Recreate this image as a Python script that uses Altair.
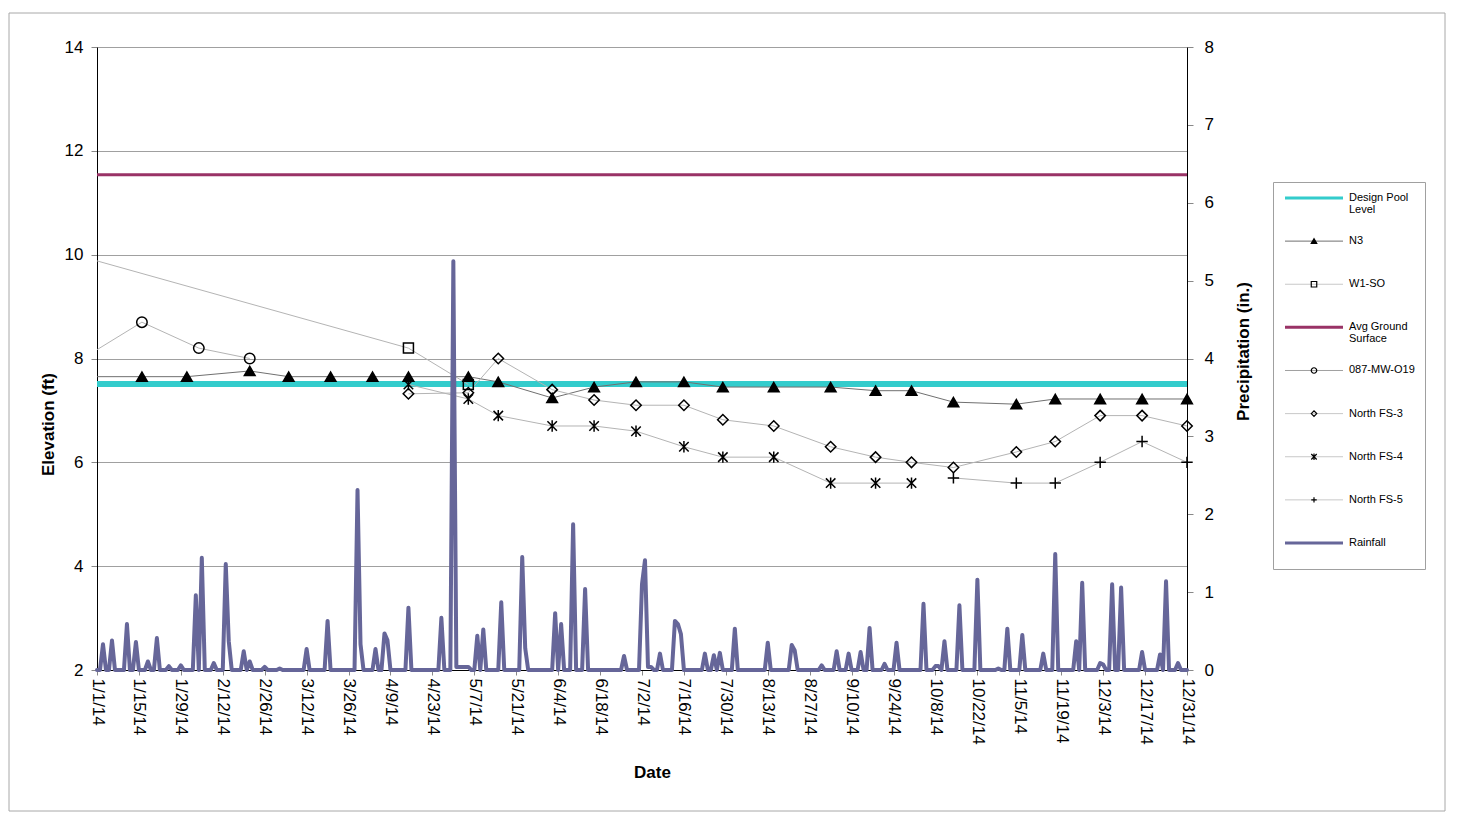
import altair as alt
import pandas as pd

# ---------------- data ----------------
x_tick_labels = ["1/1/14", "1/15/14", "1/29/14", "2/12/14", "2/26/14", "3/12/14", "3/26/14",
                 "4/9/14", "4/23/14", "5/7/14", "5/21/14", "6/4/14", "6/18/14", "7/2/14",
                 "7/16/14", "7/30/14", "8/13/14", "8/27/14", "9/10/14", "9/24/14", "10/8/14",
                 "10/22/14", "11/5/14", "11/19/14", "12/3/14", "12/17/14", "12/31/14"]
elev_ticks = [2, 4, 6, 8, 10, 12, 14]
precip_ticks = [0, 1, 2, 3, 4, 5, 6, 7, 8]

pool_dates = ["1/1/14", "12/31/14"]
pool_values = [7.51, 7.51]

ground_dates = ["1/1/14", "12/31/14"]
ground_values = [11.54, 11.54]

n3_dates = ["1/1/14", "1/16/14", "1/31/14", "2/21/14", "3/6/14", "3/20/14", "4/3/14", "4/15/14",
            "5/5/14", "5/15/14", "6/2/14", "6/16/14", "6/30/14", "7/16/14", "7/29/14", "8/15/14",
            "9/3/14", "9/18/14", "9/30/14", "10/14/14", "11/4/14", "11/17/14", "12/2/14",
            "12/16/14", "12/31/14"]
n3_values = [7.65, 7.65, 7.65, 7.76, 7.65, 7.65, 7.65, 7.65, 7.65, 7.55, 7.24, 7.45, 7.55,
             7.55, 7.45, 7.45, 7.45, 7.38, 7.38, 7.16, 7.12, 7.22, 7.22, 7.22, 7.22]

w1_dates = ["1/1/14", "4/15/14", "5/5/14"]
w1_values = [9.88, 8.2, 7.5]

mw_dates = ["1/1/14", "1/16/14", "2/4/14", "2/21/14"]
mw_values = [8.17, 8.7, 8.2, 8.0]

fs3_dates = ["4/15/14", "5/5/14", "5/15/14", "6/2/14", "6/16/14", "6/30/14", "7/16/14", "7/29/14",
             "8/15/14", "9/3/14", "9/18/14", "9/30/14", "10/14/14", "11/4/14", "11/17/14",
             "12/2/14", "12/16/14", "12/31/14"]
fs3_values = [7.32, 7.34, 8.0, 7.4, 7.2, 7.1, 7.1, 6.82, 6.7, 6.3, 6.1, 6.0, 5.9, 6.2, 6.4,
              6.9, 6.9, 6.7]

fs4_dates = ["4/15/14", "5/5/14", "5/15/14", "6/2/14", "6/16/14", "6/30/14", "7/16/14",
             "7/29/14", "8/15/14", "9/3/14", "9/18/14", "9/30/14"]
fs4_values = [7.5, 7.22, 6.9, 6.7, 6.7, 6.6, 6.3, 6.1, 6.1, 5.6, 5.6, 5.6]

fs5_dates = ["10/14/14", "11/4/14", "11/17/14", "12/2/14", "12/16/14", "12/31/14"]
fs5_values = [5.7, 5.6, 5.6, 6.0, 6.4, 6.0]

# series whose line enters from before 1/1/14 (first point has no visible marker)
enters_from_left = ["N3", "W1-SO", "087-MW-O19"]

# daily rainfall (day of year, 0 = 1/1/14); all other days are 0
rain_day = [2, 5, 10, 13, 17, 20, 24, 28, 33, 35, 39, 43, 44, 49, 51, 56, 61, 70, 77, 87, 88,
            93, 96, 97, 104, 115, 119, 120, 121, 122, 123, 124, 127, 129, 135, 142, 143, 153,
            155, 159, 163, 176, 182, 183, 184, 185, 188, 193, 194, 195, 203, 206, 208, 213,
            224, 232, 233, 242, 247, 251, 255, 258, 263, 267, 276, 280, 281, 283, 288, 294,
            301, 304, 309, 316, 320, 327, 329, 335, 336, 339, 342, 349, 355, 357, 361]
rain_in = [0.33, 0.38, 0.59, 0.36, 0.11, 0.41, 0.05, 0.06, 0.96, 1.44, 0.09, 1.36, 0.37, 0.24,
           0.11, 0.04, 0.02, 0.27, 0.63, 2.31, 0.33, 0.27, 0.47, 0.38, 0.80, 0.67, 5.25, 0.04,
           0.04, 0.04, 0.04, 0.04, 0.44, 0.52, 0.87, 1.45, 0.28, 0.73, 0.59, 1.87, 1.04, 0.18,
           1.10, 1.41, 0.04, 0.04, 0.21, 0.63, 0.59, 0.46, 0.21, 0.19, 0.22, 0.53, 0.35, 0.32,
           0.25, 0.06, 0.24, 0.21, 0.23, 0.54, 0.08, 0.35, 0.85, 0.05, 0.05, 0.37, 0.83, 1.16,
           0.02, 0.53, 0.45, 0.21, 1.49, 0.37, 1.12, 0.09, 0.07, 1.10, 1.06, 0.23, 0.20, 1.14,
           0.09]
assert len(rain_day) == len(rain_in)

legend_labels = ["Design Pool\nLevel", "N3", "W1-SO", "Avg Ground\nSurface", "087-MW-O19",
                 "North FS-3", "North FS-4", "North FS-5", "Rainfall"]

# ---------------- styles ----------------
STAR = "M-1,-1L1,1M-1,1L1,-1M0,-1.2L0,1.2"
PLUS = "M-1,0L1,0M0,-1L0,1"
FONT = "Liberation Sans"

well_style = {
    "N3": dict(line="#707070", shape="triangle-up", fill="black", size=115),
    "W1-SO": dict(line="#b4b4b4", shape="square", fill="transparent", size=100),
    "087-MW-O19": dict(line="#b4b4b4", shape="circle", fill="transparent", size=110),
    "North FS-3": dict(line="#b4b4b4", shape="diamond", fill="transparent", size=110),
    "North FS-4": dict(line="#b4b4b4", shape=STAR, fill="transparent", size=90),
    "North FS-5": dict(line="#b4b4b4", shape=PLUS, fill="transparent", size=130),
}
legend_line_color = ["#33CCCC", "#707070", "#c8c8c8", "#993366", "#a0a0a0", "#c8c8c8",
                     "#c8c8c8", "#c8c8c8", "#666699"]
legend_line_width = [3, 1, 1, 3, 1, 1, 1, 1, 3]
legend_shape = ["", "triangle-up", "square", "", "circle", "diamond", STAR, PLUS, ""]
legend_fill = ["transparent", "black", "transparent", "transparent", "transparent",
               "transparent", "transparent", "transparent", "transparent"]


def iso(lbl):
    m, d, y = lbl.split("/")
    return f"{2000 + int(y)}-{int(m):02d}-{int(d):02d}T00:00:00"


def dtobj(lbl):
    m, d, y = lbl.split("/")
    return alt.DateTime(year=2000 + int(y), month=int(m), date=int(d))


rows = []
for name, dates, vals in [("N3", n3_dates, n3_values), ("W1-SO", w1_dates, w1_values),
                          ("087-MW-O19", mw_dates, mw_values),
                          ("North FS-3", fs3_dates, fs3_values),
                          ("North FS-4", fs4_dates, fs4_values),
                          ("North FS-5", fs5_dates, fs5_values)]:
    for i, (d, v) in enumerate(zip(dates, vals)):
        rows.append({"series": name, "date": iso(d), "value": v,
                     "marker": not (i == 0 and name in enters_from_left)})
wells = pd.DataFrame(rows)

levels = pd.DataFrame(
    [{"series": "Design Pool Level", "date": iso(d), "value": v} for d, v in zip(pool_dates, pool_values)]
    + [{"series": "Avg Ground Surface", "date": iso(d), "value": v} for d, v in zip(ground_dates, ground_values)]
)

rain_map = dict(zip(rain_day, rain_in))
start = pd.Timestamp("2014-01-01")
rain = pd.DataFrame({
    "date": [(start + pd.Timedelta(days=k)).strftime("%Y-%m-%dT00:00:00") for k in range(365)],
    "rain": [rain_map.get(k, 0.0) for k in range(365)],
})

# ---------------- encodings ----------------
W, H = 1090, 623

x_axis = alt.Axis(values=[dtobj(t) for t in x_tick_labels], format="%-m/%-d/%y",
                  labelAngle=90, labelAlign="left", labelBaseline="middle",
                  labelFontSize=17, labelFont=FONT, labelColor="black", labelPadding=3,
                  labelOverlap=False, labelFlush=False, labelBound=False,
                  tickSize=5, tickColor="#888888", domainColor="black", domainWidth=1,
                  grid=False, title="Date", titleFont=FONT, titleFontSize=17,
                  titleFontWeight="bold", titleColor="black", titleX=555, titleY=102,
                  titleBaseline="middle", titleAlign="center")
X = alt.X("date:T", scale=alt.Scale(domain=[dtobj("1/1/14"), dtobj("12/31/14")]), axis=x_axis)

y_axis = alt.Axis(values=elev_ticks, labelFontSize=17, labelFont=FONT, labelColor="black",
                  labelPadding=8, tickSize=6, tickColor="#888888", domainColor="black",
                  domainWidth=1, grid=True, gridColor="#a0a0a0", gridWidth=1,
                  title="Elevation (ft)", titleFont=FONT, titleFontSize=17,
                  titleFontWeight="bold", titleColor="black", titleAngle=270,
                  titleX=-49, titleY=377, titleBaseline="middle", titleAlign="center")
Y = alt.Y("value:Q", scale=alt.Scale(domain=[2, 14]), axis=y_axis)

r_axis = alt.Axis(orient="right", values=precip_ticks, labelFontSize=17, labelFont=FONT,
                  labelColor="black", labelPadding=11, tickSize=6, tickColor="#888888",
                  domainColor="black", domainWidth=1, grid=False,
                  title="Precipitation (in.)", titleFont=FONT, titleFontSize=17,
                  titleFontWeight="bold", titleColor="black", titleAngle=270,
                  titleX=56, titleY=304, titleBaseline="middle", titleAlign="center")

# ---------------- main plot ----------------
frame = alt.Chart(pd.DataFrame({"k": [0]})).mark_rect(
    fill="transparent", stroke="#a8a8a8", strokeWidth=1
).encode(x=alt.value(-88), x2=alt.value(1348), y=alt.value(-34), y2=alt.value(764))

lv = alt.Chart(levels)
ground_line = lv.transform_filter(alt.datum.series == "Avg Ground Surface").mark_line(
    color="#993366", strokeWidth=3).encode(x=X, y=Y)
pool_line = lv.transform_filter(alt.datum.series == "Design Pool Level").mark_line(
    color="#33CCCC", strokeWidth=6).encode(x=X, y=Y)

wb = alt.Chart(wells)
well_lines = []
well_points = []
for name, st in well_style.items():
    well_lines.append(
        wb.transform_filter(alt.datum.series == name).mark_line(
            color=st["line"], strokeWidth=1).encode(x=X, y=Y))
    well_points.append(
        wb.transform_filter((alt.datum.series == name) & alt.datum.marker).mark_point(
            shape=st["shape"], filled=True, fill=st["fill"], stroke="black",
            strokeWidth=1.5, size=st["size"], opacity=1).encode(x=X, y=Y))

left = alt.layer(frame, ground_line, pool_line, *well_lines, *well_points)

rain_line = alt.Chart(rain).mark_line(
    color="#666699", strokeWidth=4, strokeJoin="round", strokeCap="round"
).encode(x=X, y=alt.Y("rain:Q", scale=alt.Scale(domain=[0, 8]), axis=r_axis))

main = alt.layer(left, rain_line).resolve_scale(y="independent").properties(
    width=W, height=H, view=alt.ViewBackground(stroke="transparent"))

# ---------------- legend panel ----------------
legend_df = pd.DataFrame({
    "label": legend_labels,
    "row": list(range(len(legend_labels))),
    "lcolor": legend_line_color,
    "lwidth": legend_line_width,
    "shape": legend_shape,
    "fill": legend_fill,
})
LY = alt.Y("row:Q", scale=alt.Scale(domain=[-0.371, 8.603], reverse=True), axis=None)
lrule = alt.Chart(legend_df).mark_rule().encode(
    x=alt.value(12), x2=alt.value(70), y=LY,
    color=alt.Color("lcolor:N", scale=None),
    strokeWidth=alt.StrokeWidth("lwidth:Q", scale=None))
lpts = alt.Chart(legend_df).transform_filter("datum.shape != ''").mark_point(
    filled=True, stroke="black", strokeWidth=1.2, size=30, opacity=1
).encode(x=alt.value(41), y=LY, shape=alt.Shape("shape:N", scale=None),
         fill=alt.Fill("fill:N", scale=None))
ltext = alt.Chart(legend_df).mark_text(
    align="left", baseline="top", dy=-6, fontSize=11, font=FONT, lineBreak="\n",
    lineHeight=12, color="black"
).encode(x=alt.value(76), y=LY, text="label:N")

legend_box = alt.layer(lrule, lpts, ltext).properties(
    width=152, height=387, view=alt.ViewBackground(stroke="#a0a0a0", strokeWidth=1))
spacer = alt.Chart(pd.DataFrame({"k": [0]})).mark_point(opacity=0).encode(
    x=alt.value(0), y=alt.value(0)).properties(
    width=152, height=115, view=alt.ViewBackground(stroke="transparent", fill="transparent"))

legend_col = alt.vconcat(spacer, legend_box, spacing=20, bounds="flush")

chart = alt.hconcat(main, legend_col, spacing=86, bounds="flush").properties(
    padding={"left": 0, "top": 4, "right": 5, "bottom": 0}
).configure_view(stroke="transparent").configure(font=FONT)

chart.save("out.html", embed_options={"renderer": "svg", "actions": False})
